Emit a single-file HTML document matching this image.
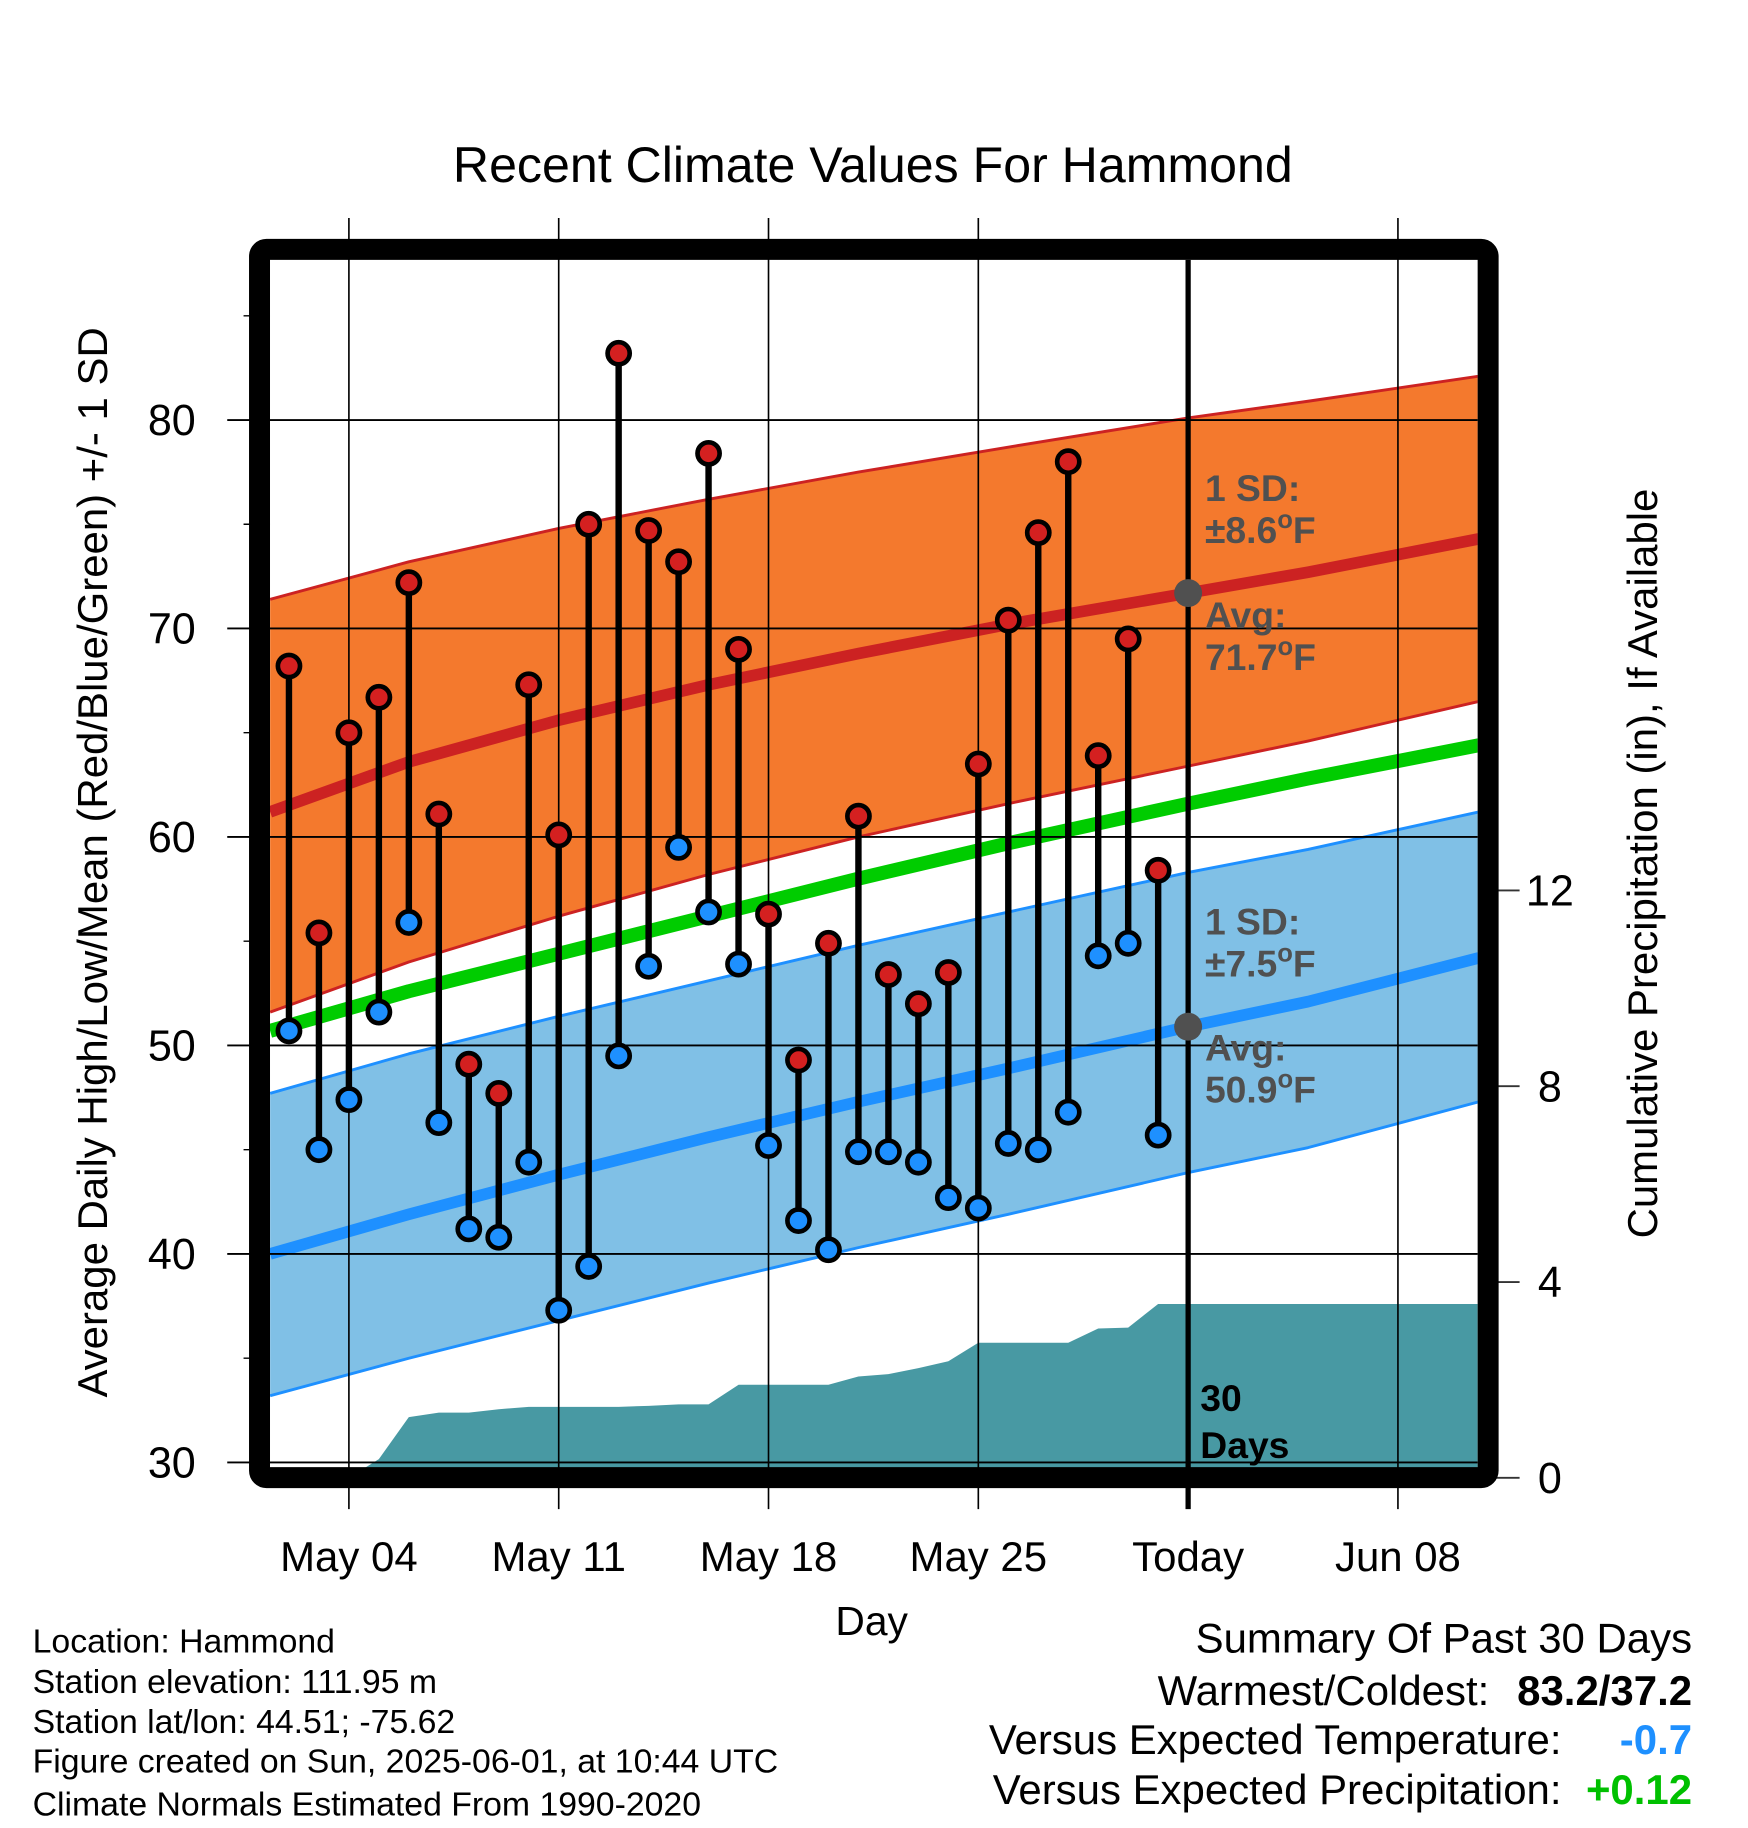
<!DOCTYPE html>
<html><head><meta charset="utf-8"><style>
html,body{margin:0;padding:0;background:#fff;}
svg{display:block;font-family:"Liberation Sans",sans-serif;}
</style></head><body>
<svg id="chart" width="1748" height="1828" viewBox="0 0 1500 1568.6" xmlns="http://www.w3.org/2000/svg">
<rect x="0" y="0" width="1500" height="1568.6" fill="#fff"/>
<text x="749" y="156" font-size="43" text-anchor="middle">Recent Climate Values For Hammond</text>
<g id="plot"></g>
<text transform="translate(92,740) rotate(-90)" font-size="36" text-anchor="middle">Average Daily High/Low/Mean (Red/Blue/Green) +/- 1 SD</text>
<text transform="translate(1422,741) rotate(-90)" font-size="36" text-anchor="middle">Cumulative Precipitation (in), If Available</text>
<text x="748" y="1403" font-size="35" text-anchor="middle">Day</text>
<g font-size="29">
<text x="28" y="1418">Location: Hammond</text>
<text x="28" y="1453">Station elevation: 111.95 m</text>
<text x="28" y="1487">Station lat/lon: 44.51; -75.62</text>
<text x="28" y="1521">Figure created on Sun, 2025-06-01, at 10:44 UTC</text>
<text x="28" y="1558">Climate Normals Estimated From 1990-2020</text>
</g>
<g font-size="36">
<text x="1452" y="1418" text-anchor="end">Summary Of Past 30 Days</text>
<text x="1278" y="1463" text-anchor="end">Warmest/Coldest:</text>
<text x="1452" y="1463" text-anchor="end" font-weight="bold">83.2/37.2</text>
<text x="1340" y="1505" text-anchor="end">Versus Expected Temperature:</text>
<text x="1452" y="1505" text-anchor="end" font-weight="bold" fill="#1e90ff">-0.7</text>
<text x="1340" y="1548" text-anchor="end">Versus Expected Precipitation:</text>
<text x="1452" y="1548" text-anchor="end" font-weight="bold" fill="#00c000">+0.12</text>
</g>
</svg>
<script>
// ---- data ----
const obsDays = [1,2,3,4,5,6,7,8,9,10,11,12,13,14,15,16,17,18,19,20,21,22,23,24,25,26,27,28,29,30];
const highs = [68.2,55.4,65.0,66.7,72.2,61.1,49.1,47.7,67.3,60.1,75.0,83.2,74.7,73.2,78.4,69.0,56.3,49.3,54.9,61.0,53.4,52.0,53.5,63.5,70.4,74.6,78.0,63.9,69.5,58.4];
const lows = [50.7,45.0,47.4,51.6,55.9,46.3,41.2,40.8,44.4,37.3,39.4,49.5,53.8,59.5,56.4,53.9,45.2,41.6,40.2,44.9,44.9,44.4,42.7,42.2,45.3,45.0,46.8,54.3,54.9,45.7];
const precipCum = [0,0,0,0.38,1.24,1.33,1.33,1.40,1.45,1.45,1.45,1.45,1.47,1.50,1.50,1.90,1.90,1.90,1.90,2.07,2.12,2.24,2.38,2.76,2.76,2.76,2.76,3.05,3.07,3.55];
const normDays = [0.37,5,10,15,20,25,31,35,40.7];
const highAvg = [61.2,63.6,65.6,67.3,68.8,70.2,71.7,72.7,74.3];
const highUpper = [71.4,73.2,74.8,76.2,77.5,78.7,80.1,80.9,82.1];
const highLower = [51.6,54.0,56.2,58.2,60.0,61.6,63.4,64.6,66.5];
const meanNorm = [50.7,52.6,54.4,56.2,58.0,59.7,61.6,62.8,64.4];
const lowAvg = [40.0,41.9,43.8,45.6,47.3,48.9,50.9,52.1,54.2];
const lowUpper = [47.7,49.6,51.4,53.1,54.8,56.4,58.3,59.4,61.2];
const lowLower = [33.2,35.0,36.8,38.6,40.3,41.9,43.9,45.1,47.3];
const yTicks = [30,40,50,60,70,80];
const yMinor = [35,45,55,65,75,85];
const pTicks = [0,4,8,12];
const xTickDays = [3,10,17,24,31,38];
const xTickLabels = ["May 04","May 11","May 18","May 25","Today","Jun 08"];
const todayDay = 31;

// ---- axes ----
const X0=231.7,X1=1268,Y0=223,Y1=1259.5;
const xs = d => 299.4 + (d-3)*25.72;
const ys = v => 360.4 + (80-v)*17.89;
const yp = p => 1268.1 - p*42;
const NS="http://www.w3.org/2000/svg";
const plot=document.getElementById('plot');
function mk(tag,attrs,parent){const e=document.createElementNS(NS,tag);for(const k in attrs)e.setAttribute(k,attrs[k]);(parent||plot).appendChild(e);return e;}
function pts(days,vals,fx,fy){return days.map((d,i)=>fx(d).toFixed(1)+','+fy(vals[i]).toFixed(1));}

const clip=mk('clipPath',{id:'clipp'});mk('rect',{x:X0,y:Y0,width:X1-X0,height:Y1-Y0},clip);
const g=mk('g',{'clip-path':'url(#clipp)'});

let e=mk('polygon',{points:pts(normDays,highUpper,xs,ys).concat(pts(normDays,highLower,xs,ys).reverse()).join(' '),fill:'#f4792d'},g);


e=mk('polygon',{points:pts(normDays,lowUpper,xs,ys).concat(pts(normDays,lowLower,xs,ys).reverse()).join(' '),fill:'#80c0e6'},g);


[[highUpper,'#cc2222',2.5,'high-upper-line'],[highLower,'#cc2222',2.5,'high-lower-line'],[lowUpper,'#1e90ff',2.5,'low-upper-line'],[lowLower,'#1e90ff',2.5,'low-lower-line'],[highAvg,'#cc2222',10,'high-avg-line'],[meanNorm,'#00cc00',12,'mean-normal-line'],[lowAvg,'#1e90ff',10,'low-avg-line']].forEach(s=>{
  const l=mk('polyline',{points:pts(normDays,s[0],xs,ys).join(' '),fill:'none',stroke:s[1],'stroke-width':s[2],'stroke-linejoin':'round'},g);
  
  
});
const pp=[X0.toFixed(1)+','+yp(0)].concat(pts(obsDays,precipCum,xs,yp));
pp.push(X1+','+yp(precipCum[precipCum.length-1]).toFixed(1));pp.push(X1+','+yp(0));
e=mk('polygon',{points:pp.join(' '),fill:'#4899a3'},g);



yTicks.forEach(v=>{
  const l=mk('line',{x1:195,x2:X1,y1:ys(v),y2:ys(v),stroke:'#000','stroke-width':1.6});
  
  
  const t=mk('text',{x:168,y:ys(v)+13,'font-size':37,'text-anchor':'end'});t.textContent=v;
  
  
});
yMinor.forEach(v=>{mk('line',{x1:209,x2:X0,y1:ys(v),y2:ys(v),stroke:'#000','stroke-width':1.2});});
pTicks.forEach(p=>{
  mk('line',{x1:1277,x2:1304,y1:yp(p),y2:yp(p),stroke:'#333','stroke-width':1.6});
  const t=mk('text',{x:1330,y:yp(p)+13,'font-size':37,'text-anchor':'middle'});t.textContent=p;
  
  
});
xTickDays.forEach((d,i)=>{
  if(d!==todayDay){const l=mk('line',{x1:xs(d),x2:xs(d),y1:187,y2:1295,stroke:'#000','stroke-width':1.4});
    
    }
  const t=mk('text',{x:xs(d),y:1348,'font-size':36,'text-anchor':'middle'});t.textContent=xTickLabels[i];
  
  
});
e=mk('line',{x1:xs(todayDay),x2:xs(todayDay),y1:Y0,y2:1295,stroke:'#000','stroke-width':4.5});



obsDays.forEach((d,i)=>{
  const l=mk('line',{x1:xs(d),x2:xs(d),y1:ys(highs[i]),y2:ys(lows[i]),stroke:'#000','stroke-width':5.5});
  
  
  const ch=mk('circle',{cx:xs(d),cy:ys(highs[i]),r:9.5,fill:'#d42020',stroke:'#000','stroke-width':4});
  
  
  const cl=mk('circle',{cx:xs(d),cy:ys(lows[i]),r:9.5,fill:'#1e90ff',stroke:'#000','stroke-width':4});
  
  
});
const tHi=highAvg[6],tLo=lowAvg[6];
e=mk('circle',{cx:xs(todayDay),cy:ys(tHi),r:12,fill:'#505050'});


e=mk('circle',{cx:xs(todayDay),cy:ys(tLo),r:12,fill:'#505050'});



function lbl(txt,y,name,fill,x){const t=mk('text',{x:x||1034,y:y,'font-size':32,'font-weight':'bold',fill:fill||'#505050'});t.innerHTML=txt;
  
  }
lbl('1 SD:',430,'high-sd-label');
lbl('±8.6<tspan dy="-13" font-size="22">o</tspan><tspan dy="13">F</tspan>',466,'high-sd-value');
lbl('Avg:',539,'high-avg-label');
lbl('71.7<tspan dy="-13" font-size="22">o</tspan><tspan dy="13">F</tspan>',575,'high-avg-value');
lbl('1 SD:',802,'low-sd-label');
lbl('±7.5<tspan dy="-13" font-size="22">o</tspan><tspan dy="13">F</tspan>',838,'low-sd-value');
lbl('Avg:',910,'low-avg-label');
lbl('50.9<tspan dy="-13" font-size="22">o</tspan><tspan dy="13">F</tspan>',946,'low-avg-value');
lbl('30',1211,'days-count-label','#000',1030);
lbl('Days',1251,'days-label','#000',1030);

e=mk('rect',{x:222.7,y:214,width:1277-222.7,height:1268-214,rx:6,fill:'none',stroke:'#000','stroke-width':18});


</script>
</body></html>
